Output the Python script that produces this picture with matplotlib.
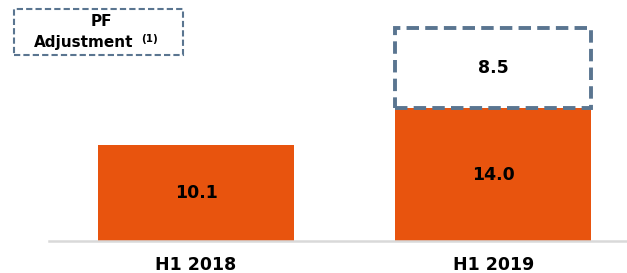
import matplotlib
matplotlib.use("Agg")
import matplotlib.pyplot as plt
from matplotlib.patches import Rectangle

categories = ["H1 2018", "H1 2019"]
base_values = [10.1, 14.0]
pf_adjustment = [0.0, 8.5]

orange = "#E8540E"
dash_col = "#5A7590"

W, H = 627, 273
fig = plt.figure(figsize=(W / 100, H / 100), dpi=100)
ax = fig.add_axes([49 / W, 1 - 241 / H, 1 - 49 / W, 241 / H])

x = list(range(len(categories)))
width = 0.66
ax.bar(x, base_values, width=width, color=orange, zorder=2)
for xi, b, a in zip(x, base_values, pf_adjustment):
    ax.text(xi, b / 2, f"{b:.1f}", ha="center", va="center", fontsize=12.5,
            fontweight="bold", color="black")
    if a > 0:
        ax.bar(xi, a, bottom=b, width=width, facecolor="none", edgecolor=dash_col,
               linewidth=2.8, linestyle=(0, (3.2, 1.6)), zorder=3)
        ax.text(xi, b + a / 2, f"{a:.1f}", ha="center", va="center", fontsize=12.5,
                fontweight="bold", color="black")

ax.set_xlim(-0.495, 1.45)
ax.set_ylim(0, 25.4)
for s in ["top", "right", "left"]:
    ax.spines[s].set_visible(False)
ax.spines["bottom"].set_color("#d9d9d9")
ax.spines["bottom"].set_linewidth(1.8)
ax.set_yticks([])
ax.set_xticks(x)
ax.set_xticklabels(categories, fontsize=12.5, fontweight="bold")
ax.tick_params(axis="x", length=0, pad=11)

# legend box
rect = Rectangle((14 / W, 1 - 55 / H), (183 - 14) / W, (55 - 9) / H, transform=fig.transFigure,
                 facecolor="none", edgecolor=dash_col, linewidth=1.5, linestyle=(0, (3, 1.5)))
fig.patches.append(rect)
fig.text(101 / W, 1 - 21 / H, "PF", ha="center", va="center", fontsize=11, fontweight="bold")
fig.text(84 / W, 1 - 42.5 / H, "Adjustment", ha="center", va="center", fontsize=11, fontweight="bold")
fig.text(150 / W, 1 - 39 / H, "(1)", ha="center", va="center", fontsize=7.5, fontweight="bold")

fig.savefig("out.png", dpi=100)
